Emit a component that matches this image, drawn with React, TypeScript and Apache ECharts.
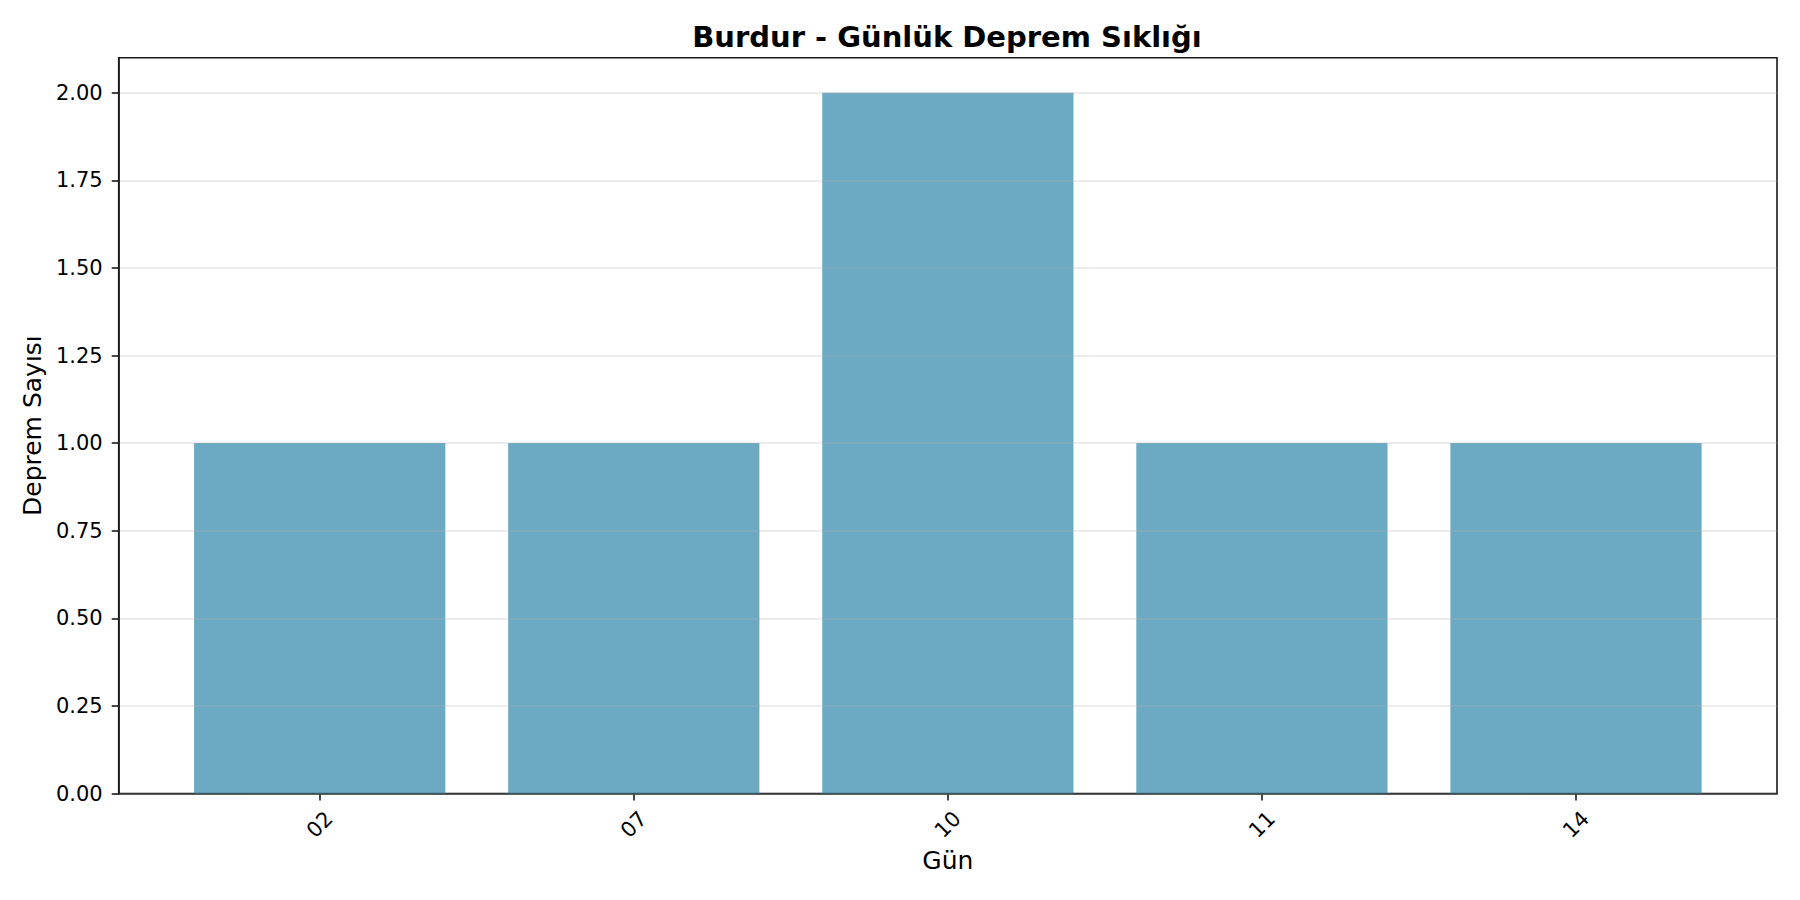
import React, { useEffect, useRef } from "react";
import * as echarts from "echarts";

const days = ["02", "07", "10", "11", "14"];
const counts = [1, 1, 2, 1, 1];
const yTicks = [0, 0.25, 0.5, 0.75, 1.0, 1.25, 1.5, 1.75, 2.0];
const titleText = "Burdur - Günlük Deprem Sıklığı";
const xName = "Gün";
const yName = "Deprem Sayısı";

const FONT = "DejaVu Sans";

export default function App() {
  const ref = useRef<HTMLDivElement>(null);
  useEffect(() => {
    if (!ref.current) return;
    const chart = echarts.init(ref.current, null, { renderer: "svg" });
    const xIdx = days.map((_, i) => i);
    chart.setOption({
      animation: false,
      backgroundColor: "#ffffff",
      textStyle: { fontFamily: FONT },
      title: {
        text: titleText,
        left: 942,
        top: 17,
        textAlign: "center",
        textStyle: { fontFamily: FONT, fontWeight: "bold", fontSize: 29, color: "#000" },
      },
      grid: {
        left: 118.7,
        right: 23,
        top: 57.7,
        bottom: 106.5,
        show: true,
        borderColor: "#1a1a1a",
        borderWidth: 1.6,
        backgroundColor: "transparent",
      },
      xAxis: {
        type: "value",
        min: -0.64,
        max: 4.64,
        name: xName,
        nameLocation: "middle",
        nameGap: 53,
        nameTextStyle: { fontFamily: FONT, fontSize: 25, color: "#000" },
        axisLine: { show: true, onZero: false, lineStyle: { color: "#1a1a1a", width: 1.6 } },
        axisTick: { show: true, length: 7, customValues: xIdx, lineStyle: { color: "#1a1a1a", width: 1.6 } },
        axisLabel: {
          customValues: xIdx,
          formatter: (v: number) => days[Math.round(v)] ?? "",
          rotate: 45,
          align: "center",
          verticalAlign: "middle",
          margin: 31,
          fontFamily: FONT,
          fontSize: 21,
          color: "#000",
        },
        splitLine: { show: false },
      },
      yAxis: {
        type: "value",
        min: 0,
        max: 2.1,
        interval: 0.25,
        z: 3,
        name: yName,
        nameLocation: "middle",
        nameGap: 68,
        nameTextStyle: { fontFamily: FONT, fontSize: 25, color: "#000" },
        axisLine: { show: true, onZero: false, lineStyle: { color: "#1a1a1a", width: 1.6 } },
        axisTick: { show: true, length: 7, customValues: yTicks, lineStyle: { color: "#1a1a1a", width: 1.6 } },
        axisLabel: {
          customValues: yTicks,
          formatter: (v: number) => v.toFixed(2),
          margin: 16,
          fontFamily: FONT,
          fontSize: 21,
          color: "#000",
        },
        splitLine: { show: true, lineStyle: { color: "rgba(176,176,176,0.3)", width: 1.6 } },
      },
      series: [
        {
          type: "bar",
          data: counts.map((v, i) => [i, v]),
          barWidth: "80%",
          itemStyle: { color: "#2E86AB", opacity: 0.7 },
        },
      ],
    });
    return () => chart.dispose();
  }, []);
  return (
    <div
      ref={ref}
      style={{ position: "fixed", left: 0, top: 0, width: 1800, height: 900 }}
    />
  );
}
